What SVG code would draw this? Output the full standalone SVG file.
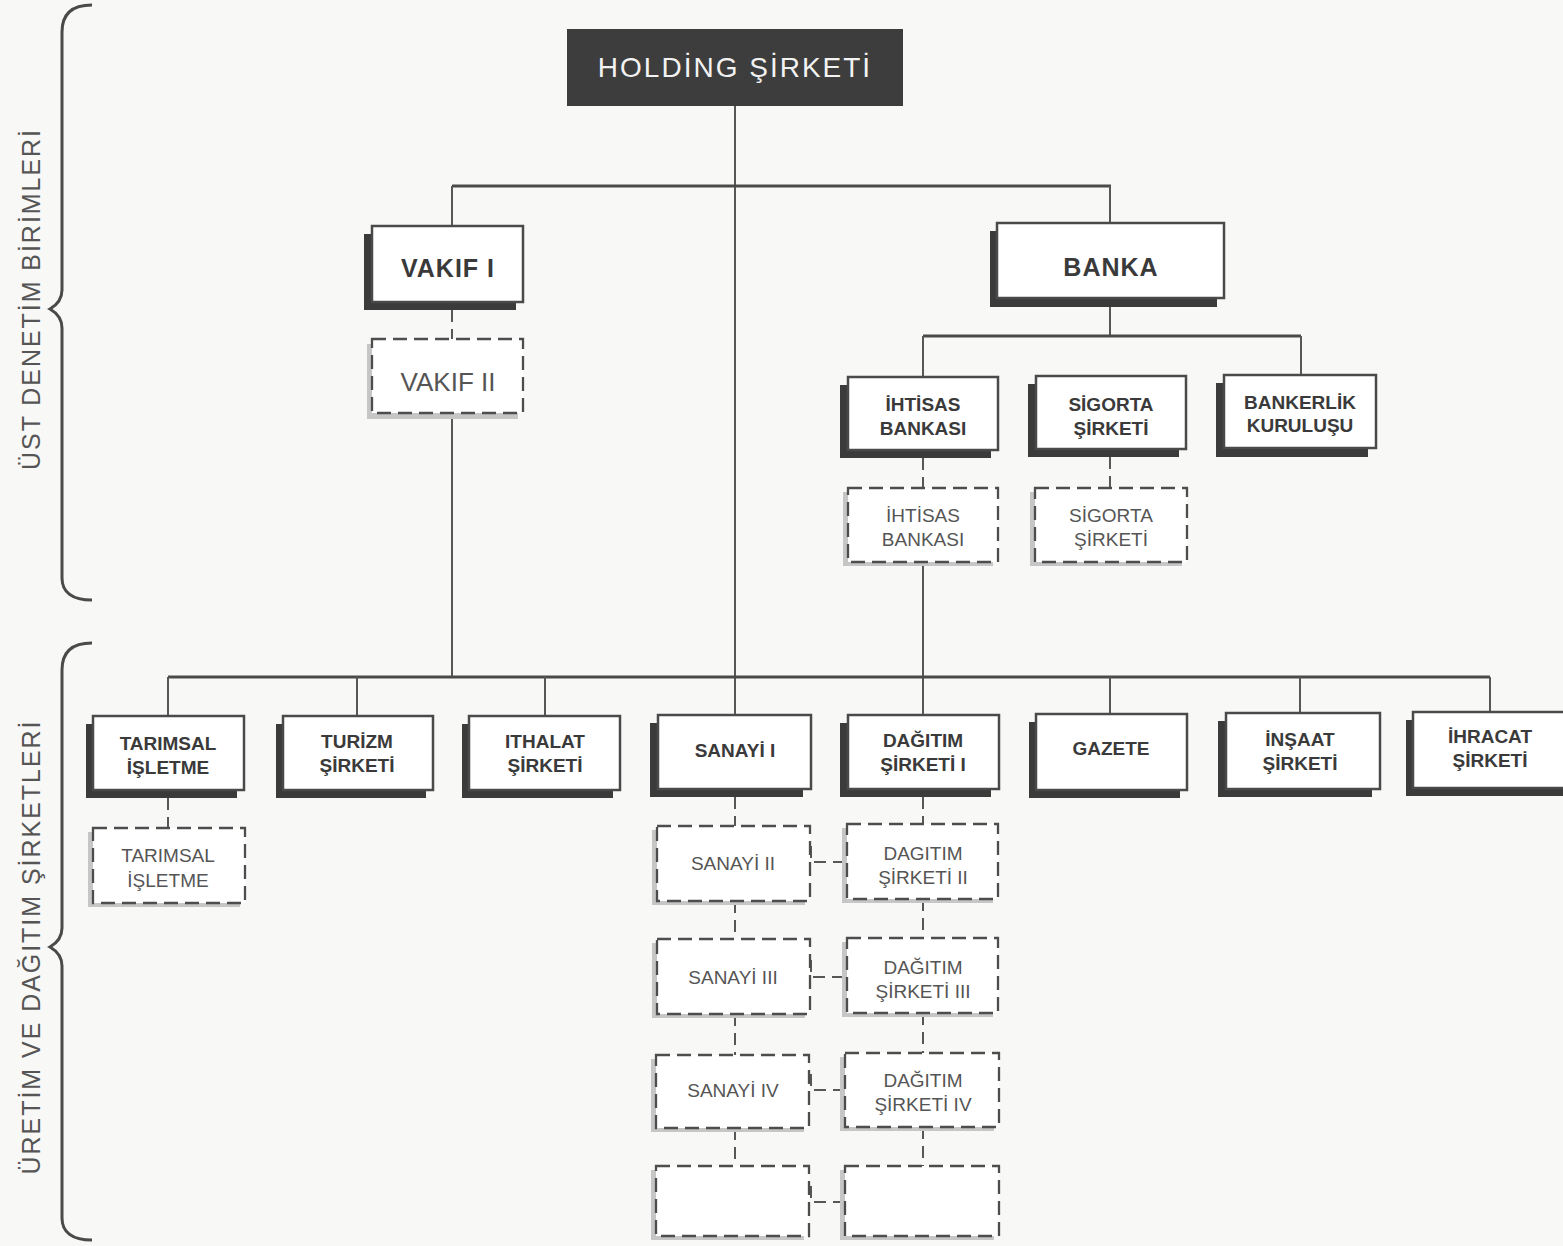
<svg xmlns="http://www.w3.org/2000/svg" width="1563" height="1246" viewBox="0 0 1563 1246">
<style>
.box{fill:#fff;stroke:#4a4a4a;stroke-width:2.5}
.sh{fill:#3b3b3b}
.dbox{fill:#fff;stroke:#4d4d4d;stroke-width:2.3;stroke-dasharray:14 7}
.dsh{fill:#c6c6c6}
.bt{font-family:"Liberation Sans",Arial,sans-serif;font-weight:bold;fill:#3a3a3a;text-anchor:middle;font-size:19px}
.rt{font-family:"Liberation Sans",Arial,sans-serif;fill:#555;text-anchor:middle;font-size:19px}
.big{font-size:25px;letter-spacing:1px}
.bigr{font-size:26px}
.ln{stroke:#575757;stroke-width:2;fill:none}
.bus{stroke:#4a4a4a;stroke-width:3;fill:none}
.dl{stroke:#575757;stroke-width:2;fill:none;stroke-dasharray:12 7}
.side{font-family:"Liberation Sans",Arial,sans-serif;fill:#555;font-size:25px;text-anchor:middle}
.brace{stroke:#4a4a4a;stroke-width:3;fill:none;stroke-linejoin:miter}
</style>
<rect width="1563" height="1246" fill="#f8f8f6"/>

<g id="braces">
<path class="brace" d="M92,5 C72,5 62,14 62,32 L62,290 Q62,302 50,309 Q62,316 62,328 L62,578 C62,592 72,600 92,600"/>
<path class="brace" d="M92,643 C72,643 62,652 62,670 L62,928 Q62,940 50,947 Q62,954 62,966 L62,1218 C62,1232 72,1240 92,1240"/>
</g>
<g id="side-labels">
<text class="side" transform="translate(40,300) rotate(-90)" textLength="340" lengthAdjust="spacing">ÜST DENETİM BİRİMLERİ</text>
<text class="side" transform="translate(40,948) rotate(-90)" textLength="453" lengthAdjust="spacing">ÜRETİM VE DAĞITIM ŞİRKETLERİ</text>
</g>

<g id="connectors">
<line class="ln" x1="735" y1="106" x2="735" y2="715"/>
<line class="bus" x1="452" y1="186" x2="1111" y2="186"/>
<line class="ln" x1="452" y1="186" x2="452" y2="226"/>
<line class="ln" x1="1110" y1="186" x2="1110" y2="223"/>
<line class="dl" x1="452" y1="310" x2="452" y2="339"/>
<line class="ln" x1="452" y1="413" x2="452" y2="677"/>
<line class="ln" x1="1110" y1="298" x2="1110" y2="336"/>
<line class="bus" x1="923" y1="336" x2="1301" y2="336"/>
<line class="ln" x1="923" y1="336" x2="923" y2="377"/>
<line class="ln" x1="1301" y1="336" x2="1301" y2="376"/>
<line class="dl" x1="923" y1="458" x2="923" y2="488"/>
<line class="dl" x1="1110" y1="457" x2="1110" y2="488"/>
<line class="ln" x1="923" y1="562" x2="923" y2="715"/>
<line class="bus" x1="168" y1="677" x2="1490" y2="677"/>
<line class="ln" x1="168" y1="677" x2="168" y2="716"/>
<line class="ln" x1="357" y1="677" x2="357" y2="716"/>
<line class="ln" x1="545" y1="677" x2="545" y2="716"/>
<line class="ln" x1="1110" y1="677" x2="1110" y2="715"/>
<line class="ln" x1="1300" y1="677" x2="1300" y2="714"/>
<line class="ln" x1="1490" y1="677" x2="1490" y2="713"/>
<line class="dl" x1="168" y1="798" x2="168" y2="828"/>
<line class="dl" x1="735" y1="797" x2="735" y2="826"/>
<line class="dl" x1="923" y1="797" x2="923" y2="825"/>
<line class="dl" x1="735" y1="901" x2="735" y2="939"/>
<line class="dl" x1="923" y1="899" x2="923" y2="938"/>
<line class="dl" x1="735" y1="1014" x2="735" y2="1055"/>
<line class="dl" x1="923" y1="1013" x2="923" y2="1053"/>
<line class="dl" x1="735" y1="1128" x2="735" y2="1166"/>
<line class="dl" x1="923" y1="1127" x2="923" y2="1166"/>
<path class="dl" d="M811,846 L811,862 L847,862"/>
<path class="dl" d="M811,960 L811,977 L847,977"/>
<path class="dl" d="M811,1074 L811,1090 L846,1090"/>
<path class="dl" d="M811,1186 L811,1202 L846,1202"/>
</g>

<g id="holding">
<rect x="567" y="29" width="336" height="77" fill="#3d3d3d"/>
<text x="735" y="77" font-family="Liberation Sans,Arial,sans-serif" font-size="28" fill="#f2f2f2" text-anchor="middle" letter-spacing="2">HOLDİNG ŞİRKETİ</text>
</g>

<g id="vakif1">
<rect class="sh" x="364" y="234" width="152" height="76"/>
<rect class="box" x="372" y="226" width="151" height="76"/>
<text class="bt big" x="448" y="277">VAKIF I</text>
</g>
<g id="vakif2">
<rect class="dsh" x="367" y="344" width="151" height="75"/>
<rect class="dbox" x="372" y="339" width="151" height="74"/>
<text class="rt bigr" x="448" y="391">VAKIF II</text>
</g>

<g id="banka">
<rect class="sh" x="990" y="231" width="227" height="76"/>
<rect class="box" x="997" y="223" width="227" height="75"/>
<text class="bt big" x="1111" y="276">BANKA</text>
</g>

<g id="ihtisas1">
<rect class="sh" x="840" y="385" width="151" height="73"/>
<rect class="box" x="848" y="377" width="150" height="73"/>
<text class="bt" x="923" y="411">İHTİSAS</text>
<text class="bt" x="923" y="435">BANKASI</text>
</g>
<g id="sigorta1">
<rect class="sh" x="1028" y="384" width="151" height="73"/>
<rect class="box" x="1036" y="376" width="150" height="73"/>
<text class="bt" x="1111" y="411">SİGORTA</text>
<text class="bt" x="1111" y="435">ŞİRKETİ</text>
</g>
<g id="bankerlik">
<rect class="sh" x="1216" y="383" width="152" height="74"/>
<rect class="box" x="1224" y="375" width="152" height="73"/>
<text class="bt" x="1300" y="409">BANKERLİK</text>
<text class="bt" x="1300" y="432">KURULUŞU</text>
</g>
<g id="ihtisas2">
<rect class="dsh" x="843" y="492" width="150" height="74"/>
<rect class="dbox" x="848" y="488" width="150" height="74"/>
<text class="rt" x="923" y="522">İHTİSAS</text>
<text class="rt" x="923" y="546">BANKASI</text>
</g>
<g id="sigorta2">
<rect class="dsh" x="1030" y="492" width="152" height="74"/>
<rect class="dbox" x="1035" y="488" width="152" height="74"/>
<text class="rt" x="1111" y="522">SİGORTA</text>
<text class="rt" x="1111" y="546">ŞİRKETİ</text>
</g>

<g id="tarimsal1">
<rect class="sh" x="86" y="724" width="151" height="74"/>
<rect class="box" x="93" y="716" width="151" height="74"/>
<text class="bt" x="168" y="750">TARIMSAL</text>
<text class="bt" x="168" y="774">İŞLETME</text>
</g>
<g id="turizm">
<rect class="sh" x="276" y="724" width="150" height="74"/>
<rect class="box" x="283" y="716" width="150" height="74"/>
<text class="bt" x="357" y="748">TURİZM</text>
<text class="bt" x="357" y="772">ŞİRKETİ</text>
</g>
<g id="ithalat">
<rect class="sh" x="462" y="724" width="151" height="74"/>
<rect class="box" x="469" y="716" width="151" height="74"/>
<text class="bt" x="545" y="748">ITHALAT</text>
<text class="bt" x="545" y="772">ŞİRKETİ</text>
</g>
<g id="sanayi1">
<rect class="sh" x="650" y="723" width="153" height="74"/>
<rect class="box" x="658" y="715" width="153" height="74"/>
<text class="bt" x="735" y="757">SANAYİ I</text>
</g>
<g id="dagitim1">
<rect class="sh" x="840" y="723" width="151" height="74"/>
<rect class="box" x="848" y="715" width="151" height="74"/>
<text class="bt" x="923" y="747">DAĞITIM</text>
<text class="bt" x="923" y="771">ŞİRKETİ I</text>
</g>
<g id="gazete">
<rect class="sh" x="1029" y="722" width="151" height="76"/>
<rect class="box" x="1036" y="714" width="151" height="76"/>
<text class="bt" x="1111" y="755">GAZETE</text>
</g>
<g id="insaat">
<rect class="sh" x="1218" y="721" width="154" height="76"/>
<rect class="box" x="1226" y="713" width="154" height="76"/>
<text class="bt" x="1300" y="746">İNŞAAT</text>
<text class="bt" x="1300" y="770">ŞİRKETİ</text>
</g>
<g id="ihracat">
<rect class="sh" x="1406" y="720" width="157" height="76"/>
<rect class="box" x="1413" y="712" width="152" height="76"/>
<text class="bt" x="1490" y="743">İHRACAT</text>
<text class="bt" x="1490" y="767">ŞİRKETİ</text>
</g>

<g id="tarimsal2">
<rect class="dsh" x="88" y="832" width="152" height="75"/>
<rect class="dbox" x="93" y="828" width="152" height="75"/>
<text class="rt" x="168" y="862">TARIMSAL</text>
<text class="rt" x="168" y="887">İŞLETME</text>
</g>
<g id="sanayi2">
<rect class="dsh" x="652" y="830" width="153" height="75"/>
<rect class="dbox" x="657" y="826" width="153" height="75"/>
<text class="rt" x="733" y="870">SANAYİ II</text>
</g>
<g id="dagitim2">
<rect class="dsh" x="842" y="828" width="151" height="75"/>
<rect class="dbox" x="847" y="824" width="151" height="75"/>
<text class="rt" x="923" y="860">DAGITIM</text>
<text class="rt" x="923" y="884">ŞİRKETİ II</text>
</g>
<g id="sanayi3">
<rect class="dsh" x="652" y="943" width="153" height="75"/>
<rect class="dbox" x="657" y="939" width="153" height="75"/>
<text class="rt" x="733" y="984">SANAYİ III</text>
</g>
<g id="dagitim3">
<rect class="dsh" x="842" y="942" width="151" height="75"/>
<rect class="dbox" x="847" y="938" width="151" height="75"/>
<text class="rt" x="923" y="974">DAĞITIM</text>
<text class="rt" x="923" y="998">ŞİRKETİ III</text>
</g>
<g id="sanayi4">
<rect class="dsh" x="651" y="1059" width="153" height="73"/>
<rect class="dbox" x="656" y="1055" width="153" height="73"/>
<text class="rt" x="733" y="1097">SANAYİ IV</text>
</g>
<g id="dagitim4">
<rect class="dsh" x="840" y="1057" width="154" height="74"/>
<rect class="dbox" x="845" y="1053" width="154" height="74"/>
<text class="rt" x="923" y="1087">DAĞITIM</text>
<text class="rt" x="923" y="1111">ŞİRKETİ IV</text>
</g>
<g id="sanayi5">
<rect class="dsh" x="651" y="1170" width="153" height="70"/>
<rect class="dbox" x="656" y="1166" width="153" height="70"/>
</g>
<g id="dagitim5">
<rect class="dsh" x="840" y="1170" width="154" height="70"/>
<rect class="dbox" x="845" y="1166" width="154" height="70"/>
</g>
</svg>
